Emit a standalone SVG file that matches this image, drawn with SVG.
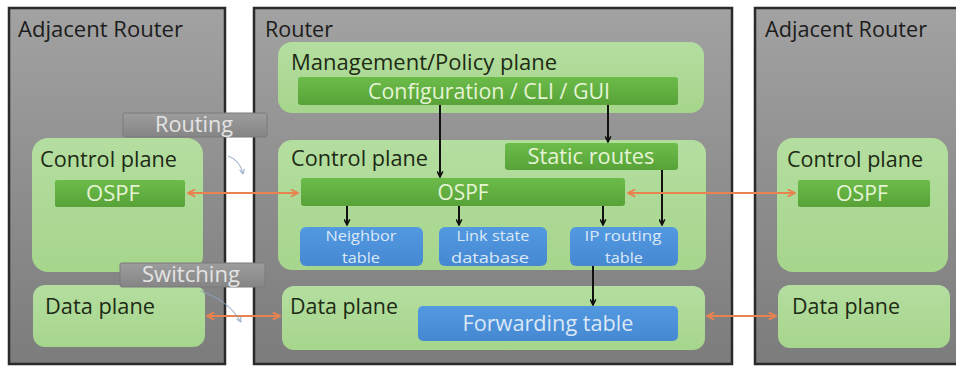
<svg xmlns="http://www.w3.org/2000/svg" width="956" height="368" viewBox="0 0 956 368">
  <defs>
    <linearGradient id="gChassis" x1="0" y1="0" x2="0" y2="1">
      <stop offset="0" stop-color="#a2a2a2"/>
      <stop offset="0.5" stop-color="#8e8e8e"/>
      <stop offset="1" stop-color="#7c7c7c"/>
    </linearGradient>
    <linearGradient id="gPlane" x1="0" y1="0" x2="0" y2="1">
      <stop offset="0" stop-color="#b4dea0"/>
      <stop offset="1" stop-color="#a6d58c"/>
    </linearGradient>
    <linearGradient id="gBar" x1="0" y1="0" x2="0" y2="1">
      <stop offset="0" stop-color="#6cbc4a"/>
      <stop offset="1" stop-color="#58a238"/>
    </linearGradient>
    <linearGradient id="gTable" x1="0" y1="0" x2="0" y2="1">
      <stop offset="0" stop-color="#5299e0"/>
      <stop offset="1" stop-color="#4688d2"/>
    </linearGradient>
    <linearGradient id="gTag" x1="0" y1="0" x2="0" y2="1">
      <stop offset="0" stop-color="#9d9d9d"/>
      <stop offset="1" stop-color="#858585"/>
    </linearGradient>
    <marker id="mBlack" viewBox="0 0 10 10" refX="9" refY="5" markerWidth="7" markerHeight="7" orient="auto-start-reverse" markerUnits="userSpaceOnUse">
      <path d="M1,1 L9,5 L1,9" fill="none" stroke="#111" stroke-width="2.2"/>
    </marker>
    <marker id="mOrange" viewBox="0 0 10 10" refX="9" refY="5" markerWidth="9" markerHeight="9" orient="auto-start-reverse" markerUnits="userSpaceOnUse">
      <path d="M1,1 L9,5 L1,9" fill="none" stroke="#e8834f" stroke-width="2"/>
    </marker>
    <marker id="mFaint" viewBox="0 0 10 10" refX="9" refY="5" markerWidth="6" markerHeight="6" orient="auto" markerUnits="userSpaceOnUse">
      <path d="M1,1 L9,5 L1,9" fill="none" stroke="#8ea6c0" stroke-width="2"/>
    </marker>
  </defs>
  <style>
    text { font-family: "Open Sans", "Liberation Sans", sans-serif; }
    .chassis { fill: url(#gChassis); stroke: #2a2a2a; stroke-width: 2.5; }
    .title { font-size: 22px; fill: #1c1c1c; }
    .plane { fill: url(#gPlane); }
    .plabel { font-size: 22px; fill: #1d2a14; }
    .bar { fill: url(#gBar); }
    .btext { font-size: 21px; fill: #e6f4d6; text-anchor: middle; }
    .table { fill: url(#gTable); }
    .ttext { font-size: 15px; fill: #dbe8f6; text-anchor: middle; }
    .ftext { font-size: 21px; fill: #dbe8f6; text-anchor: middle; }
    .tag { fill: url(#gTag); stroke: #7a7a7a; stroke-width: 1; }
    .tagtext { font-size: 21px; fill: #e4e4e4; text-anchor: middle; }
    .flow { stroke: #111; stroke-width: 2; fill: none; marker-end: url(#mBlack); }
    .peer { stroke: #e8834f; stroke-width: 2; fill: none; marker-start: url(#mOrange); marker-end: url(#mOrange); }
    .faint { stroke: #8ea6c0; stroke-width: 1.2; fill: none; marker-end: url(#mFaint); opacity: 0.8; }
  </style>

  <rect width="956" height="368" fill="#ffffff"/>

  <!-- Left neighbour router -->
  <g id="adjacent-left">
    <rect class="chassis" x="9" y="8" width="216" height="356"/>
    <text class="title" x="18" y="37" textLength="165" lengthAdjust="spacingAndGlyphs">Adjacent Router</text>
    <g id="left-control">
      <rect class="plane" x="32" y="138" width="171" height="134" rx="16"/>
      <text class="plabel" x="40" y="167" textLength="137" lengthAdjust="spacingAndGlyphs">Control plane</text>
      <rect class="bar" x="55" y="180" width="130" height="27" rx="2"/>
      <text class="btext" x="113" y="201" textLength="54" lengthAdjust="spacingAndGlyphs">OSPF</text>
    </g>
    <g id="left-data">
      <rect class="plane" x="33" y="285" width="172" height="62" rx="12"/>
      <text class="plabel" x="45" y="314" textLength="110" lengthAdjust="spacingAndGlyphs">Data plane</text>
    </g>
  </g>

  <!-- Local router -->
  <g id="router">
    <rect class="chassis" x="254" y="8" width="478" height="356"/>
    <text class="title" x="265" y="37" textLength="68" lengthAdjust="spacingAndGlyphs">Router</text>
  </g>

  <g id="management-plane">
    <rect class="plane" x="278" y="42" width="426" height="71" rx="14"/>
    <text class="plabel" x="291" y="70" textLength="266" lengthAdjust="spacingAndGlyphs">Management/Policy plane</text>
  </g>
  <g id="configuration">
    <rect class="bar" x="298" y="77" width="380" height="28" rx="3"/>
    <text class="btext" x="489" y="99" textLength="242" lengthAdjust="spacingAndGlyphs">Configuration / CLI / GUI</text>
  </g>

  <g id="control-plane">
    <rect class="plane" x="278" y="140" width="428" height="130" rx="14"/>
    <text class="plabel" x="291" y="166" textLength="137" lengthAdjust="spacingAndGlyphs">Control plane</text>
  </g>
  <g id="static-routes">
    <rect class="bar" x="505" y="143" width="173" height="27" rx="3"/>
    <text class="btext" x="591" y="164" textLength="127" lengthAdjust="spacingAndGlyphs">Static routes</text>
  </g>
  <g id="ospf">
    <rect class="bar" x="301" y="178" width="324" height="28" rx="3"/>
    <text class="btext" x="463" y="200" textLength="51" lengthAdjust="spacingAndGlyphs">OSPF</text>
  </g>
  <g id="neighbor-table">
    <rect class="table" x="300" y="227" width="123" height="39" rx="6"/>
    <text class="ttext" x="361" y="241" textLength="71" lengthAdjust="spacingAndGlyphs">Neighbor</text>
    <text class="ttext" x="361" y="263" textLength="38" lengthAdjust="spacingAndGlyphs">table</text>
  </g>
  <g id="link-state-database">
    <rect class="table" x="439" y="227" width="108" height="39" rx="6"/>
    <text class="ttext" x="493" y="241" textLength="73" lengthAdjust="spacingAndGlyphs">Link state</text>
    <text class="ttext" x="490" y="263" textLength="78" lengthAdjust="spacingAndGlyphs">database</text>
  </g>
  <g id="ip-routing-table">
    <rect class="table" x="570" y="227" width="108" height="39" rx="6"/>
    <text class="ttext" x="623" y="241" textLength="77" lengthAdjust="spacingAndGlyphs">IP routing</text>
    <text class="ttext" x="624" y="263" textLength="38" lengthAdjust="spacingAndGlyphs">table</text>
  </g>

  <g id="data-plane">
    <rect class="plane" x="282" y="286" width="423" height="64" rx="12"/>
    <text class="plabel" x="290" y="314" textLength="108" lengthAdjust="spacingAndGlyphs">Data plane</text>
  </g>
  <g id="forwarding-table">
    <rect class="table" x="418" y="306" width="260" height="35" rx="5"/>
    <text class="ftext" x="548" y="331" textLength="171" lengthAdjust="spacingAndGlyphs">Forwarding table</text>
  </g>

  <!-- Right neighbour router -->
  <g id="adjacent-right">
    <rect class="chassis" x="755" y="8" width="212" height="356"/>
    <text class="title" x="765" y="37" textLength="162" lengthAdjust="spacingAndGlyphs">Adjacent Router</text>
    <g id="right-control">
      <rect class="plane" x="777" y="138" width="171" height="134" rx="16"/>
      <text class="plabel" x="787" y="167" textLength="136" lengthAdjust="spacingAndGlyphs">Control plane</text>
      <rect class="bar" x="798" y="180" width="132" height="27" rx="2"/>
      <text class="btext" x="862" y="201" textLength="52" lengthAdjust="spacingAndGlyphs">OSPF</text>
    </g>
    <g id="right-data">
      <rect class="plane" x="778" y="285" width="172" height="63" rx="12"/>
      <text class="plabel" x="792" y="314" textLength="108" lengthAdjust="spacingAndGlyphs">Data plane</text>
    </g>
  </g>

  <!-- Connectors -->
  <g id="connectors">
    <path class="flow" d="M440,105 V177"/>
    <path class="flow" d="M608,105 V142"/>
    <path class="flow" d="M662,170 V225"/>
    <path class="flow" d="M347,206 V225"/>
    <path class="flow" d="M459,206 V225"/>
    <path class="flow" d="M603,206 V225"/>
    <path class="flow" d="M593,266 V305"/>

    <path class="peer" d="M188,193 H298"/>
    <path class="peer" d="M628,193 H795"/>
    <path class="peer" d="M207,316 H280"/>
    <path class="peer" d="M707,316 H776"/>

    <path class="faint" d="M228,156 Q240,160 243,174"/>
    <path class="faint" d="M200,291 Q228,300 241,322"/>
  </g>

  <!-- Link-type tags -->
  <g id="routing-tag">
    <rect class="tag" x="123" y="113" width="144" height="24" rx="2"/>
    <text class="tagtext" x="194" y="132" textLength="78" lengthAdjust="spacingAndGlyphs">Routing</text>
  </g>
  <g id="switching-tag">
    <rect class="tag" x="120" y="263" width="145" height="24" rx="2"/>
    <text class="tagtext" x="191" y="282" textLength="98" lengthAdjust="spacingAndGlyphs">Switching</text>
  </g>
</svg>
